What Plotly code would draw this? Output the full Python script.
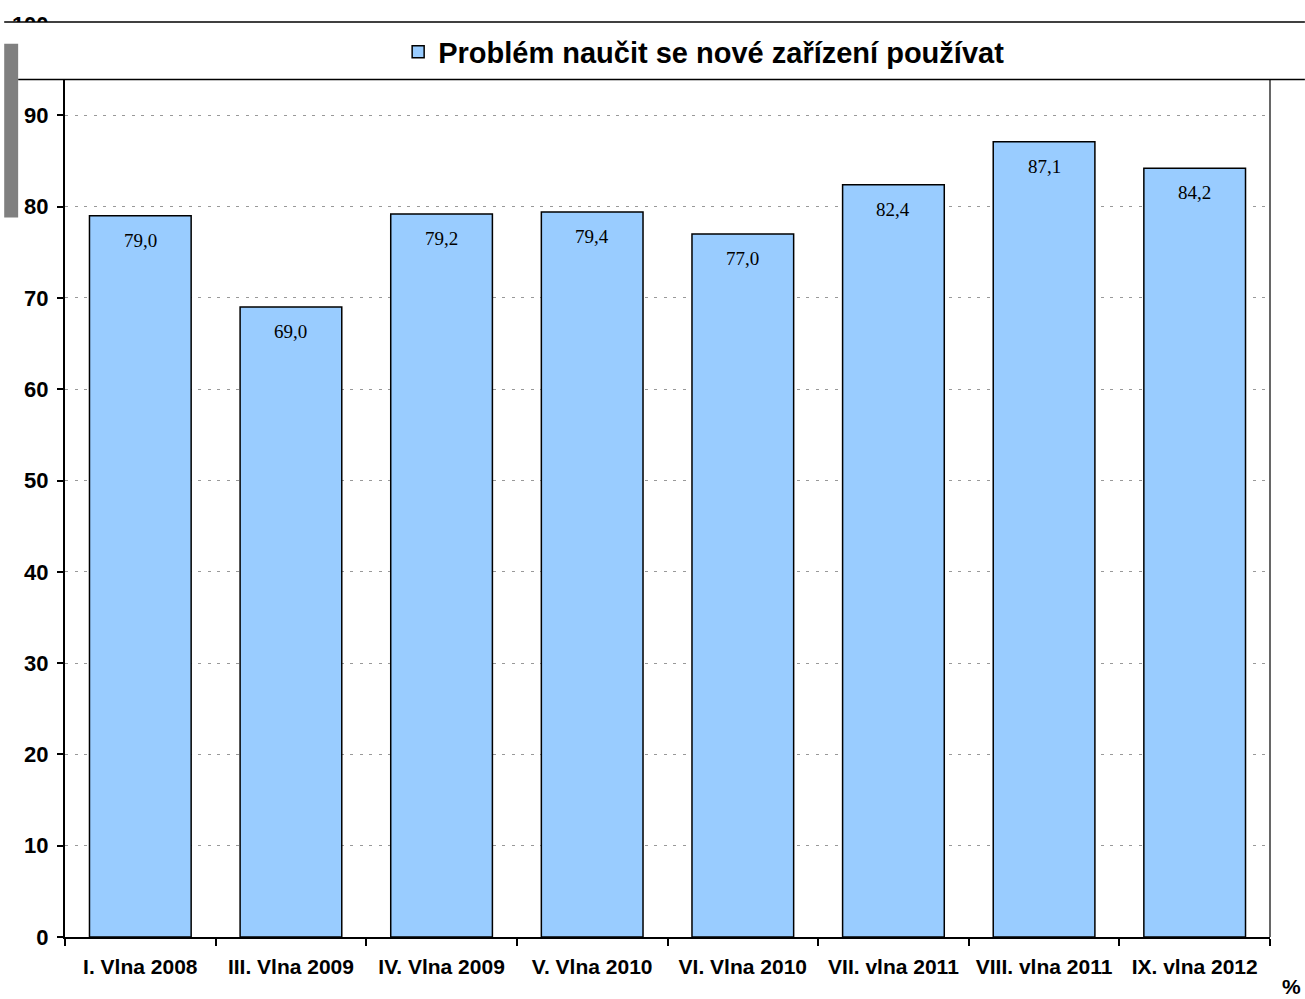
import plotly.graph_objects as go

categories = ["I. Vlna 2008", "III. Vlna 2009", "IV. Vlna 2009", "V. Vlna 2010",
              "VI. Vlna 2010", "VII. vlna 2011", "VIII. vlna 2011", "IX. vlna 2012"]
values = [79.0, 69.0, 79.2, 79.4, 77.0, 82.4, 87.1, 84.2]
series_name = "Problém naučit se nové zařízení používat"
y_ticks = [0, 10, 20, 30, 40, 50, 60, 70, 80, 90, 100]

W, H = 1305, 999
ML, MR, MT, MB = 61, 35, 17, 62
PW, PH = W - ML - MR, H - MT - MB


def px_x(p):
    return (p - ML) / PW


def px_y(p):
    return (H - MB - p) / PH


labels = [f"{v:.1f}".replace(".", ",") for v in values]

fig = go.Figure()
fig.add_trace(go.Bar(
    x=categories, y=values, name=series_name,
    marker=dict(color="#99CCFF", line=dict(color="#000000", width=1.5)),
    showlegend=True,
))

annotations = []
for c, v, t in zip(categories, values, labels):
    annotations.append(dict(
        x=c, y=v, xref="x", yref="y", text=t, showarrow=False,
        yanchor="top", yshift=-12,
        font=dict(family="Liberation Serif, Times New Roman, serif", size=19, color="#000000"),
    ))
annotations.append(dict(
    x=px_x(1292), y=px_y(987), xref="paper", yref="paper", text="%", showarrow=False,
    xanchor="center", yanchor="middle",
    font=dict(family="Liberation Sans, Arial, sans-serif", size=21, color="#000000", weight="bold"),
))

shapes = [
    # white legend band covering top of plot
    dict(type="rect", xref="paper", yref="paper", x0=px_x(-5), x1=px_x(W + 5),
         y0=px_y(73), y1=px_y(15), fillcolor="#FFFFFF", line=dict(width=0), layer="above"),
    # top line
    dict(type="line", xref="paper", yref="paper", x0=px_x(0), x1=px_x(W),
         y0=px_y(15), y1=px_y(15), line=dict(color="#000000", width=1.5), layer="above"),
    # line under legend band
    dict(type="line", xref="paper", yref="paper", x0=px_x(14), x1=px_x(W),
         y0=px_y(73), y1=px_y(73), line=dict(color="#000000", width=1.5), layer="above"),
    # right border of plot area
    dict(type="line", xref="paper", yref="paper", x0=1, x1=1,
         y0=0, y1=px_y(73), line=dict(color="#000000", width=1.2), layer="above"),
    # gray block at left
    dict(type="rect", xref="paper", yref="paper", x0=px_x(0), x1=px_x(14),
         y0=px_y(212), y1=px_y(37), fillcolor="#808080", line=dict(width=0), layer="above"),
]

fig.update_layout(
    width=W, height=H,
    margin=dict(l=ML, r=MR, t=MT, b=MB, pad=0),
    paper_bgcolor="#FFFFFF", plot_bgcolor="#FFFFFF",
    bargap=0.325,
    font=dict(family="Liberation Sans, Arial, sans-serif", color="#000000"),
    showlegend=True,
    legend=dict(
        orientation="h", x=0.53, y=px_y(45), xanchor="center", yanchor="middle",
        font=dict(family="Liberation Sans, Arial, sans-serif", size=29, color="#000000", weight="bold"),
        bgcolor="rgba(0,0,0,0)",
    ),
    annotations=annotations,
    shapes=shapes,
)

fig.update_xaxes(
    type="category", range=[-0.5, len(categories) - 0.5],
    showline=True, linecolor="#000000", linewidth=2,
    ticks="outside", tickson="boundaries", ticklen=7, tickcolor="#000000", tickwidth=1.5,
    ticklabelstandoff=10,
    tickfont=dict(family="Liberation Sans, Arial, sans-serif", size=21, color="#000000", weight="bold"),
    showgrid=False, zeroline=False,
)
fig.update_yaxes(
    range=[0, 100], tickvals=y_ticks, ticktext=[str(v) for v in y_ticks],
    showline=True, linecolor="#000000", linewidth=2,
    ticks="outside", ticklen=6, tickcolor="#000000", tickwidth=1.5,
    ticklabelstandoff=4,
    tickfont=dict(family="Liberation Sans, Arial, sans-serif", size=22, color="#000000", weight="bold"),
    showgrid=True, gridcolor="#999999", gridwidth=1, griddash="3px,6.5px",
    zeroline=False,
)

fig.write_html(
    "out.html",
    config={"displayModeBar": False},
    post_script="document.body.style.margin='0';document.body.style.overflow='hidden';",
)
